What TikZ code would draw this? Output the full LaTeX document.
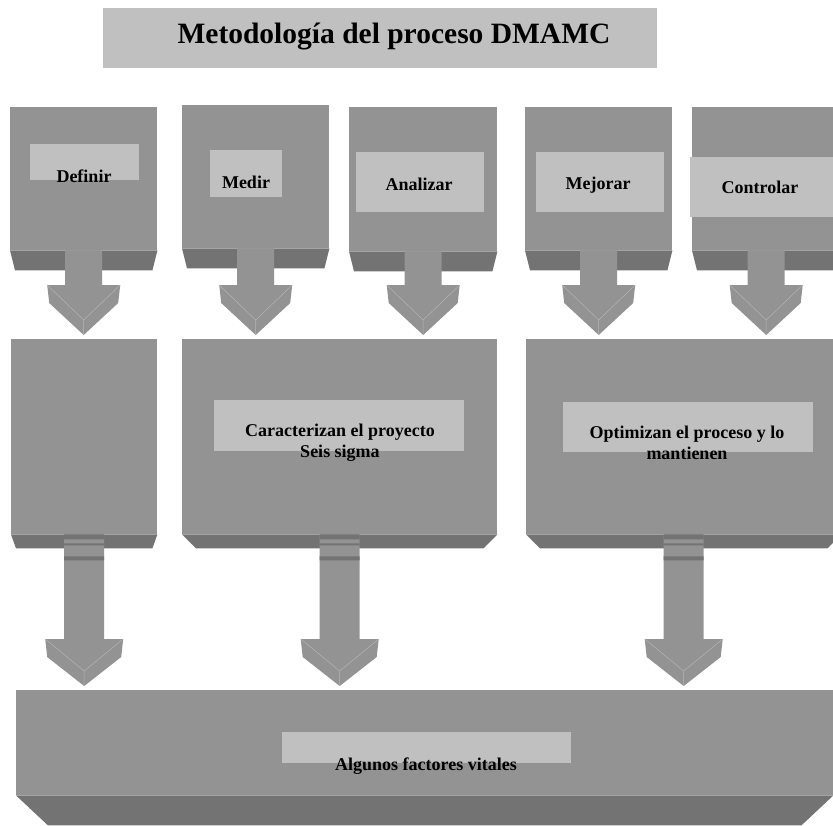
\documentclass[tikz,border=0pt]{standalone}
\usepackage{fontspec}
\setmainfont{Liberation Serif}
\usetikzlibrary{positioning,calc}
\definecolor{dmface}{HTML}{939393}
\definecolor{dmside}{HTML}{737373}
\definecolor{dmlabel}{HTML}{C0C0C0}
\definecolor{dmedge}{HTML}{B4B4B4}

\tikzset{
  face/.style={fill=dmface, inner sep=0pt, anchor=north west},
  tag/.style={fill=dmlabel, inner sep=0pt, anchor=north west},
  tagtext/.style={font=\bfseries\fontsize{18}{21}\selectfont, align=center, inner sep=0pt},
}

% bottom slab under a box: node, depth, inset
\newcommand{\bevel}[3]{%
  \fill[dmside] (#1.south west) -- (#1.south east) -- ([xshift=-#3pt,yshift=-#2pt]#1.south east)
    -- ([xshift=#3pt,yshift=-#2pt]#1.south west) -- cycle;}

% block arrow: from, to, shaft half, head half, head length
\newcommand{\dropcon}[5]{%
  \fill[dmface] let \p1=(#1.south), \p2=(#2.north) in
    (\x1-#3pt,\y1) -- (\x1+#3pt,\y1) -- (\x1+#3pt,\y2+4pt+#5pt) -- (\x1+#4pt,\y2+4pt+#5pt)
    -- (\x1+#4pt-2pt,\y2+#5pt-14pt) -- (\x1,\y2+4pt) -- (\x1-#4pt+2pt,\y2+#5pt-14pt)
    -- (\x1-#4pt,\y2+4pt+#5pt) -- (\x1-#3pt,\y2+4pt+#5pt) -- cycle;
  \draw[dmedge, line width=0.5pt] let \p1=(#1.south), \p2=(#2.north) in
    (\x1-#4pt,\y2+4pt+#5pt) -- (\x1,\y2+19pt) -- (\x1+#4pt,\y2+4pt+#5pt)
    (\x1,\y2+19pt) -- (\x1,\y2+4pt);}

% bands where a lower arrow leaves its box: node, shaft half
\newcommand{\stub}[2]{%
  \fill[dmside] ([xshift=-#2pt]#1.south) rectangle ([xshift=#2pt,yshift=-5pt]#1.south)
    ([xshift=-#2pt,yshift=-9pt]#1.south) rectangle ([xshift=#2pt,yshift=-11pt]#1.south)
    ([xshift=-#2pt,yshift=-22pt]#1.south) rectangle ([xshift=#2pt,yshift=-26pt]#1.south);}

\begin{document}
\begin{tikzpicture}[x=1pt, y=-1pt]
  \useasboundingbox (0,0) rectangle (833,825);

  % title
  \node[tag, minimum width=554pt, minimum height=60pt] (titlebox) at (103,8) {};
  \node[font=\bfseries\fontsize{29.5}{34}\selectfont, anchor=base, inner sep=0pt] (title) at (394,43) {Metodología del proceso DMAMC};

  % phases
  \node[face, minimum width=147pt, minimum height=143pt] (def) at (10,107) {};
  \node[face, minimum width=147pt, minimum height=143pt] (med) at (182,105) {};
  \node[face, minimum width=148pt, minimum height=144pt] (ana) at (349,107) {};
  \node[face, minimum width=147pt, minimum height=143pt] (mej) at (525,107) {};
  \node[face, minimum width=148pt, minimum height=143pt] (con) at (692,107) {};
  \foreach \b in {def,med,ana,mej,con} {\bevel{\b}{20}{5}}

  % groups
  \node[face, minimum width=146pt, minimum height=195pt] (mone) at (11,339) {};
  \node[face, minimum width=315pt, minimum height=195pt] (mtwo) at (182,339) {};
  \node[face, minimum width=315pt, minimum height=195pt] (mthree) at (526,339) {};
  \bevel{mone}{14}{5}
  \bevel{mtwo}{14}{14}
  \bevel{mthree}{14}{14}

  % result
  \node[face, minimum width=817pt, minimum height=105pt] (base) at (16,690) {};
  \bevel{base}{30}{32}

  % arrows
  \dropcon{def}{mone}{18.5}{36.5}{50}
  \dropcon{med}{mtwo}{18.5}{36.5}{50}
  \dropcon{ana}{mtwo}{18.5}{36.5}{50}
  \dropcon{mej}{mthree}{18.5}{36.5}{50}
  \dropcon{con}{mthree}{18.5}{36.5}{50}
  \foreach \b in {mone,mtwo,mthree} {\dropcon{\b}{base}{20}{39}{47}\stub{\b}{20}}

  % labels
  \node[tag, minimum width=109pt, minimum height=36pt] (deftag) at (30,144) {};
  \node[tag, minimum width=72pt, minimum height=47pt] (medtag) at (210,150) {};
  \node[tag, minimum width=128pt, minimum height=60pt] (anatag) at (356,152) {};
  \node[tag, minimum width=128pt, minimum height=60pt] (mejtag) at (536,152) {};
  \node[tag, minimum width=150pt, minimum height=60pt] (contag) at (690,157) {};
  \node[tag, minimum width=250pt, minimum height=51pt] (mtwotag) at (214,400) {};
  \node[tag, minimum width=250pt, minimum height=50pt] (mthreetag) at (563,402) {};
  \node[tag, minimum width=289pt, minimum height=31pt] (basetag) at (282,732) {};

  \node[tagtext, anchor=base] (deftext) at (84,182) {Definir};
  \node[tagtext, anchor=base] (medtext) at (246,188) {Medir};
  \node[tagtext, anchor=base] (anatext) at (419,190) {Analizar};
  \node[tagtext, anchor=base] (mejtext) at (598,189) {Mejorar};
  \node[tagtext, anchor=base] (context) at (760,193) {Controlar};
  \node[tagtext] (mtwotext) at (340,443) {Caracterizan el proyecto\\Seis sigma};
  \node[tagtext] (mthreetext) at (687,443) {Optimizan el proceso y lo\\mantienen};
  \node[tagtext, anchor=base] (basetext) at (426,770) {Algunos factores vitales};
\end{tikzpicture}
\end{document}
